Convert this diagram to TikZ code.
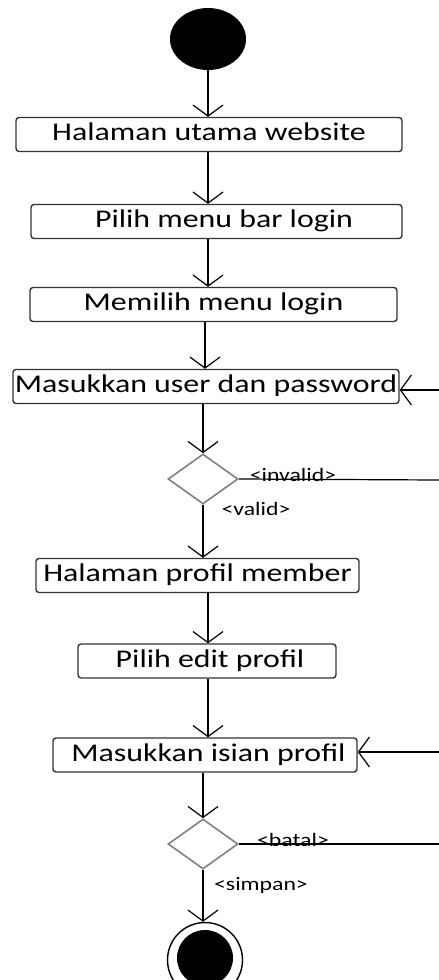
\documentclass[tikz,border=0pt]{standalone}
\usepackage{fontspec}
\setmainfont{Carlito}[FakeStretch=1.25]
\usetikzlibrary{arrows.meta,shapes.geometric}
\tikzset{
	act/.style={draw=black!80, line width=1.4pt, rounded corners=3pt, fill=white, inner sep=0pt,
		minimum height=34pt, text height=17pt, text depth=5pt, font=\fontsize{25.5}{28}\selectfont},
	choice/.style={diamond, draw=black!50, line width=1.6pt, inner sep=0pt, minimum width=70pt, minimum height=50pt, aspect=1.4},
	flow/.style={line width=1.2pt, -{Straight Barb[length=11pt, width=30pt, line width=1.2pt]}},
	guard/.style={font=\fontsize{19}{21}\selectfont, inner sep=0pt}
}
\begin{document}
\begin{tikzpicture}[x=1pt, y=-1pt]
			%%%%% START %%%%%
			\useasboundingbox (0, 0) rectangle (439, 980);
			
			\node[ellipse, fill=black, minimum width=76pt, minimum height=62pt, inner sep=0pt] (mulai) at (208, 39) {};
			
			\node[act, minimum width=386pt] (utama) at (209, 134.5) {Halaman utama website};
			\node[act, minimum width=371pt] (menubar) at (216.5, 221.5) {\hspace{15pt}Pilih menu bar login};
			\node[act, minimum width=367pt] (menulogin) at (213.5, 304.5) {Memilih menu login};
			\node[act, minimum width=386pt] (masukuser) at (206, 386.5) {Masukkan user dan password};
			
			\node[choice] (cek) at (203, 479) {};
			\node[guard] (invalid) at (293, 475) {<invalid>};
			\node[guard] (valid) at (256, 509) {<valid>};
			
			\node[act, minimum width=323pt] (profil) at (197.5, 575.5) {Halaman profil member};
			\node[act, minimum width=258pt] (editprofil) at (207, 661) {\hspace{6pt}Pilih edit profil};
			\node[act, minimum width=304pt] (isian) at (205, 755) {\hspace{7pt}Masukkan isian profil};
			
			\node[choice] (pilih) at (203, 844) {};
			\node[guard] (batal) at (293, 840) {<batal>};
			\node[guard] (simpan) at (261, 885) {<simpan>};
			
			\node[circle, draw=black, line width=1.4pt, minimum size=75pt, inner sep=0pt] (selesai) at (205, 960) {};
			\node[circle, fill=black, minimum size=56pt, inner sep=0pt] (selesaidalam) at (205, 958) {};
			
			\coordinate (balik1) at (439, 390);
			\coordinate (keluar1) at (439, 480);
			\coordinate (balik2) at (439, 752);
			\coordinate (keluar2) at (439, 844);
			
			\draw[flow] (mulai.south) -- (mulai |- utama.north);
			\draw[flow] (utama.south -| mulai) -- (mulai |- menubar.north);
			\draw[flow] (menubar.south -| mulai) -- (mulai |- menulogin.north);
			\draw[flow] (menulogin.south -| selesai) -- (selesai |- masukuser.north);
			\draw[flow] (masukuser.south -| cek) -- (cek.north);
			\draw[flow] (cek.south) -- (cek |- profil.north);
			\draw[flow] (profil.south -| mulai) -- (mulai |- editprofil.north);
			\draw[flow] (editprofil.south -| mulai) -- (mulai |- isian.north);
			\draw[flow] (isian.south -| pilih) -- (pilih.north);
			\draw[flow] (pilih.south) -- (pilih |- selesai.north);
			
			\draw[line width=1.2pt] (cek.east) -- (keluar1);
			\draw[flow] (balik1) -- (balik1 -| masukuser.east);
			\draw[line width=1.2pt] (pilih.east) -- (keluar2);
			\draw[flow] (balik2) -- (balik2 -| isian.east);
			
			%%%%% END %%%%%
\end{tikzpicture}
\end{document}
